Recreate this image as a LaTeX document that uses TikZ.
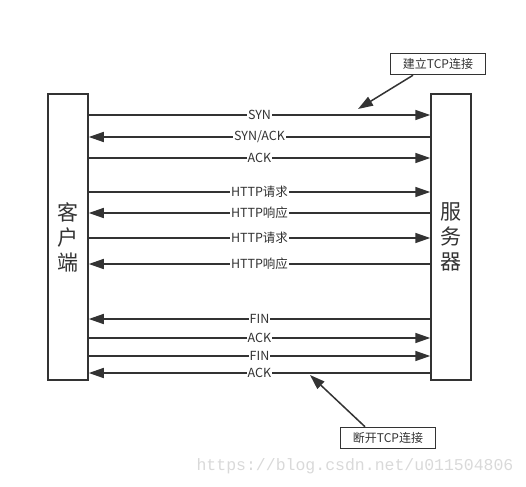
\documentclass[tikz,border=0pt]{standalone}
\usepackage{fontspec}
\setmainfont{Noto Sans CJK SC}
\usetikzlibrary{arrows.meta}
\usetikzlibrary{positioning}
\definecolor{ink}{HTML}{333333}

\begin{document}
\begin{tikzpicture}[x=1pt,y=-1pt,line width=1.5pt,draw=ink,text=ink,
    >={Triangle[length=15pt,width=10pt]},
    host/.style={draw,minimum width=40pt,minimum height=286pt,align=center,
      font=\fontsize{21}{25}\selectfont},
    note/.style={draw,minimum width=95pt,minimum height=21pt,inner sep=0pt,
      font=\fontsize{12}{14}\selectfont},
    msg/.style={fill=white,inner sep=1pt,font=\fontsize{12.5}{14}\selectfont}]
  \useasboundingbox (0,0) rectangle (526,486);
  \node[host] (c) at (68,237) {客\\户\\端};
  \node[host] (s) at (451,237) {服\\务\\器};
  \foreach \y/\txt/\dir in {115/SYN/->,137/{SYN/ACK}/<-,158/ACK/->,
      192/HTTP请求/->,213/HTTP响应/<-,238/HTTP请求/->,264/HTTP响应/<-,
      319/FIN/<-,338/ACK/->,356/FIN/->,373/ACK/<-}
    \draw[\dir] (c.east |- 0,\y) -- (s.west |- 0,\y) node[msg,midway] {\txt};
  \node[note] (open) at (438,64) {建立TCP连接};
  \node[note] (close) at (388,438) {断开TCP连接};
  \coordinate (hs) at (358,109);
  \coordinate (fin) at (310,375);
  \draw[->] ([xshift=-25pt]open.south) -- (hs);
  \draw[->] ([xshift=-23pt]close.north) -- (fin);
  \node[text=gray!30,font=\fontspec{Liberation Mono}\fontsize{16.5}{18}\selectfont]
    (mark) at (355,466) {https://blog.csdn.net/u011504806};
\end{tikzpicture}
\end{document}
